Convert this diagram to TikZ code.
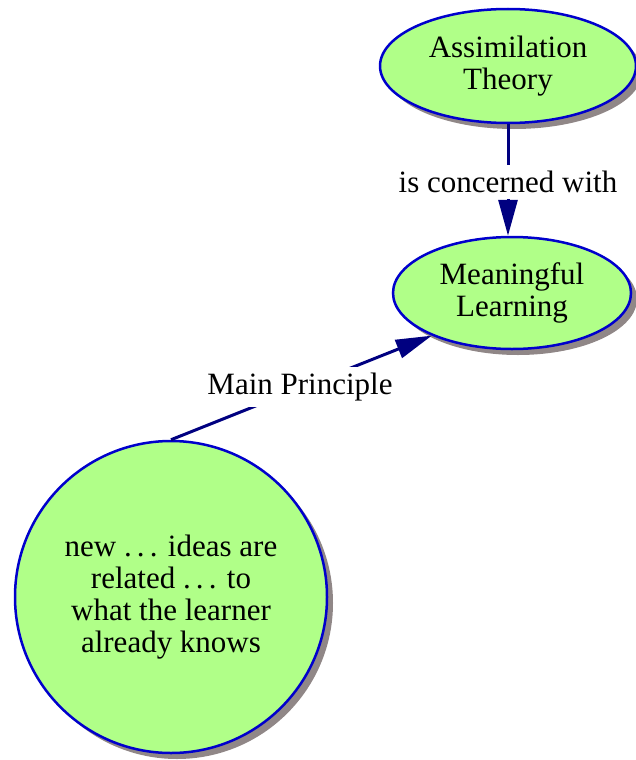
\documentclass[tikz,border=0pt]{standalone}
\usepackage{fontspec}
\setmainfont{Liberation Serif}
\usetikzlibrary{shapes.geometric,shadows,arrows.meta}
\definecolor{cfill}{RGB}{176,255,136}
\definecolor{cborder}{RGB}{0,0,204}
\definecolor{cline}{RGB}{0,0,128}
\definecolor{cshadow}{RGB}{144,135,135}
\tikzset{
  concept/.style={draw=cborder, line width=2.5pt, fill=cfill, inner sep=0pt,
    align=center, font=\fontsize{31}{32}\selectfont,
    drop shadow={shadow xshift=6pt, shadow yshift=-6pt, opacity=1, fill=cshadow}},
  oval/.style={concept, ellipse},
  roundc/.style={concept, circle},
  conn/.style={draw=cline, line width=3pt, -{Triangle[length=36pt,width=19pt]}},
  linklabel/.style={fill=white, inner xsep=4pt, inner ysep=6pt, font=\fontsize{31}{32}\selectfont}
}
\begin{document}
\begin{tikzpicture}[x=1pt,y=-1pt]
\useasboundingbox (0,0) rectangle (636,760);
\node[oval, minimum width=256pt, minimum height=114pt] (at) at (508,66) {Assimilation\\Theory};
\node[oval, minimum width=238pt, minimum height=112pt] (ml) at (512,293) {Meaningful\\Learning};
\node[roundc, minimum size=312pt] (nk) at (171,597) {new .\,.\,. ideas are\\related .\,.\,. to\\what the learner\\already knows};
\draw[conn] (at.south) -- (at.south |- ml.north);
\draw[conn] (nk.north) -- (ml.208);
\node[linklabel] (l1) at (508,182) {is concerned with};
\node[linklabel] (l2) at (300,387) {Main Principle};
\end{tikzpicture}
\end{document}
